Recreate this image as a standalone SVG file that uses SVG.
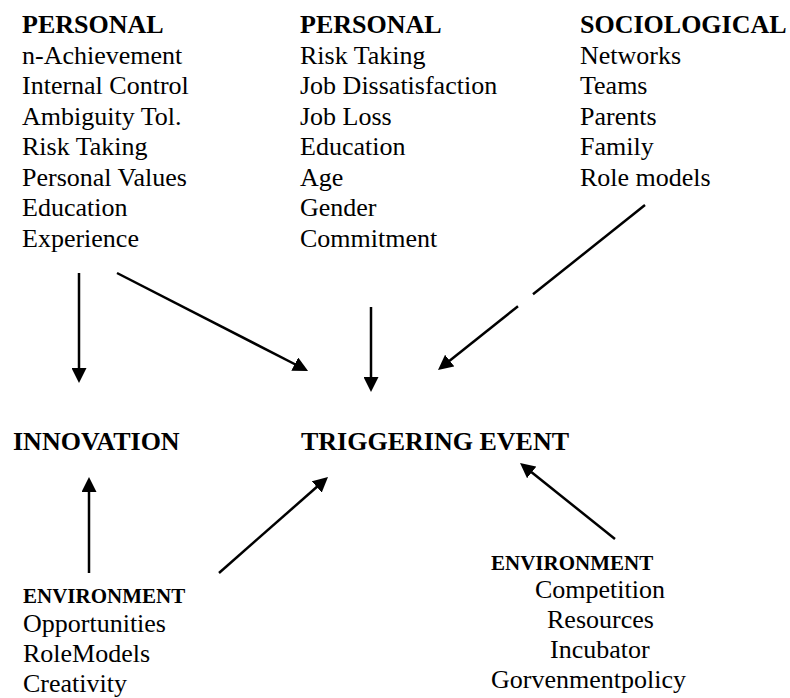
<svg xmlns="http://www.w3.org/2000/svg" width="790" height="698" viewBox="0 0 790 698">
<style>
text{font-family:"Liberation Serif","Times New Roman",serif;fill:#000;font-size:26px}
.h{font-weight:bold}
.e{font-weight:bold;font-size:21px}
.c line{stroke:#000;stroke-width:2.5;fill:none}
.a{marker-end:url(#ah)}
</style>
<defs>
<marker id="ah" viewBox="0 0 15 15" refX="3" refY="7.5" markerWidth="15" markerHeight="15" markerUnits="userSpaceOnUse" orient="auto">
<path d="M0,0 L15,7.5 L0,15 z" fill="#000"/>
</marker>
</defs>
<rect width="790" height="698" fill="#fff"/>
<g id="personal1">
<text class="h" x="22" y="33">PERSONAL</text>
<text x="22" y="63.5">n-Achievement</text>
<text x="22" y="94">Internal Control</text>
<text x="22" y="124.5">Ambiguity Tol.</text>
<text x="22" y="155">Risk Taking</text>
<text x="22" y="185.5">Personal Values</text>
<text x="22" y="216">Education</text>
<text x="22" y="246.5">Experience</text>
</g>
<g id="personal2">
<text class="h" x="300" y="33">PERSONAL</text>
<text x="300" y="63.5">Risk Taking</text>
<text x="300" y="94">Job Dissatisfaction</text>
<text x="300" y="124.5">Job Loss</text>
<text x="300" y="155">Education</text>
<text x="300" y="185.5">Age</text>
<text x="300" y="216">Gender</text>
<text x="300" y="246.5">Commitment</text>
</g>
<g id="sociological">
<text class="h" x="580" y="33">SOCIOLOGICAL</text>
<text x="580" y="63.5">Networks</text>
<text x="580" y="94">Teams</text>
<text x="580" y="124.5">Parents</text>
<text x="580" y="155">Family</text>
<text x="580" y="185.5">Role models</text>
</g>
<g id="innovation">
<text class="h" x="13" y="450">INNOVATION</text>
</g>
<g id="triggering">
<text class="h" x="301" y="450">TRIGGERING EVENT</text>
</g>
<g id="environment1">
<text class="e" x="23" y="603">ENVIRONMENT</text>
<text x="23" y="632">Opportunities</text>
<text x="23" y="662">RoleModels</text>
<text x="23" y="692">Creativity</text>
</g>
<g id="environment2">
<text class="e" x="491" y="570">ENVIRONMENT</text>
<text x="535" y="598">Competition</text>
<text x="547" y="628">Resources</text>
<text x="550" y="658">Incubator</text>
<text x="491" y="688">Gorvenmentpolicy</text>
</g>
<g id="connectors" class="c">
<line class="a" x1="79" y1="273" x2="79" y2="371"/>
<line class="a" x1="117" y1="273" x2="297.4" y2="365.5"/>
<line class="a" x1="371" y1="307" x2="371" y2="380"/>
<line x1="645" y1="205" x2="533" y2="294.3"/>
<line class="a" x1="518" y1="306.2" x2="447.4" y2="362.5"/>
<line class="a" x1="89" y1="573" x2="89" y2="489"/>
<line class="a" x1="219" y1="573" x2="319" y2="485"/>
<line class="a" x1="615" y1="539" x2="529.4" y2="470.5"/>
</g>
</svg>
